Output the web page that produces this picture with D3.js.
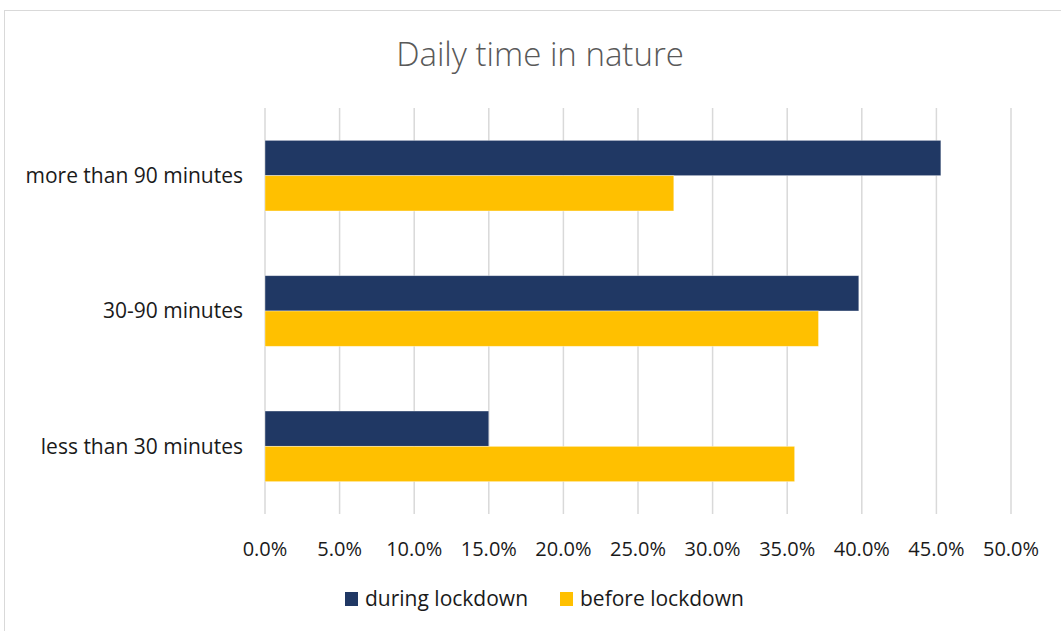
<!DOCTYPE html>
<html>
<head>
<meta charset="utf-8">
<script src="https://cdn.jsdelivr.net/npm/d3@7"></script>
<style>
  body { margin: 0; background: #fff; }
  text { font-family: "Open Sans", Lato, sans-serif; }
</style>
</head>
<body>
<div id="chart"></div>
<script>
const categories = ['more than 90 minutes', '30-90 minutes', 'less than 30 minutes'];
const seriesNames = ['during lockdown', 'before lockdown'];
const duringLockdown = [45.3, 39.8, 15.0];
const beforeLockdown = [27.4, 37.1, 35.5];
const xTicks = [0, 5, 10, 15, 20, 25, 30, 35, 40, 45, 50];
const colors = ['#203864', '#ffc000'];

const width = 1061;
const height = 631;
const margin = { left: 265, right: 50, top: 108, bottom: 117 };

const svg = d3.select('#chart').append('svg')
    .attr('width', width)
    .attr('height', height);

// chart border
svg.append('rect')
    .attr('x', 4.5).attr('y', 10.5)
    .attr('width', width + 10).attr('height', height + 10)
    .attr('fill', '#fff')
    .attr('stroke', '#d9d9d9');

svg.append('text')
    .attr('x', 540).attr('y', 66)
    .attr('text-anchor', 'middle')
    .attr('fill', '#595959')
    .style('font-size', '33px')
    .style('font-weight', 300)
    .text('Daily time in nature');

const x = d3.scaleLinear()
    .domain([0, 50])
    .range([margin.left, width - margin.right]);

const y = d3.scaleBand()
    .domain(categories)
    .range([margin.top, height - margin.bottom])
    .paddingInner(0.478)
    .paddingOuter(0.239);

const ySub = d3.scaleBand()
    .domain(seriesNames)
    .range([0, y.bandwidth()]);

// gridlines
svg.append('g')
    .selectAll('line')
    .data(xTicks)
    .join('line')
    .attr('x1', d => x(d)).attr('x2', d => x(d))
    .attr('y1', margin.top).attr('y2', height - margin.bottom)
    .attr('stroke', '#d9d9d9')
    .attr('stroke-width', 1.5);

const rows = categories.map((c, i) => ({ cat: c, values: [duringLockdown[i], beforeLockdown[i]] }));

const groups = svg.append('g')
    .selectAll('g')
    .data(rows)
    .join('g')
    .attr('transform', d => `translate(0,${y(d.cat)})`);

groups.selectAll('rect')
    .data(d => d.values.map((v, i) => ({ name: seriesNames[i], value: v, i })))
    .join('rect')
    .attr('x', x(0))
    .attr('y', d => ySub(d.name))
    .attr('width', d => x(d.value) - x(0))
    .attr('height', ySub.bandwidth())
    .attr('fill', d => colors[d.i])
    .attr('stroke', '#fff')
    .attr('stroke-opacity', 0.5)
    .attr('stroke-width', 0.75);

// category labels
svg.append('g')
    .selectAll('text')
    .data(categories)
    .join('text')
    .attr('x', 243)
    .attr('y', d => y(d) + y.bandwidth() / 2)
    .attr('dy', '0.35em')
    .attr('text-anchor', 'end')
    .attr('fill', '#1a1a1a')
    .style('font-size', '21px')
    .text(d => d);

// x axis labels
svg.append('g')
    .selectAll('text')
    .data(xTicks)
    .join('text')
    .attr('x', d => x(d))
    .attr('y', 556)
    .attr('text-anchor', 'middle')
    .attr('fill', '#1a1a1a')
    .style('font-size', '20px')
    .text(d => d3.format('.1f')(d) + '%');

// legend
const legendX = [345, 560];
const legend = svg.append('g')
    .selectAll('g')
    .data(seriesNames)
    .join('g')
    .attr('transform', (d, i) => `translate(${legendX[i]},592)`);

legend.append('rect')
    .attr('width', 13).attr('height', 14)
    .attr('fill', (d, i) => colors[i]);

legend.append('text')
    .attr('x', 20).attr('y', 7)
    .attr('dy', '0.35em')
    .attr('fill', '#1a1a1a')
    .style('font-size', '21px')
    .text(d => d);
</script>
</body>
</html>
